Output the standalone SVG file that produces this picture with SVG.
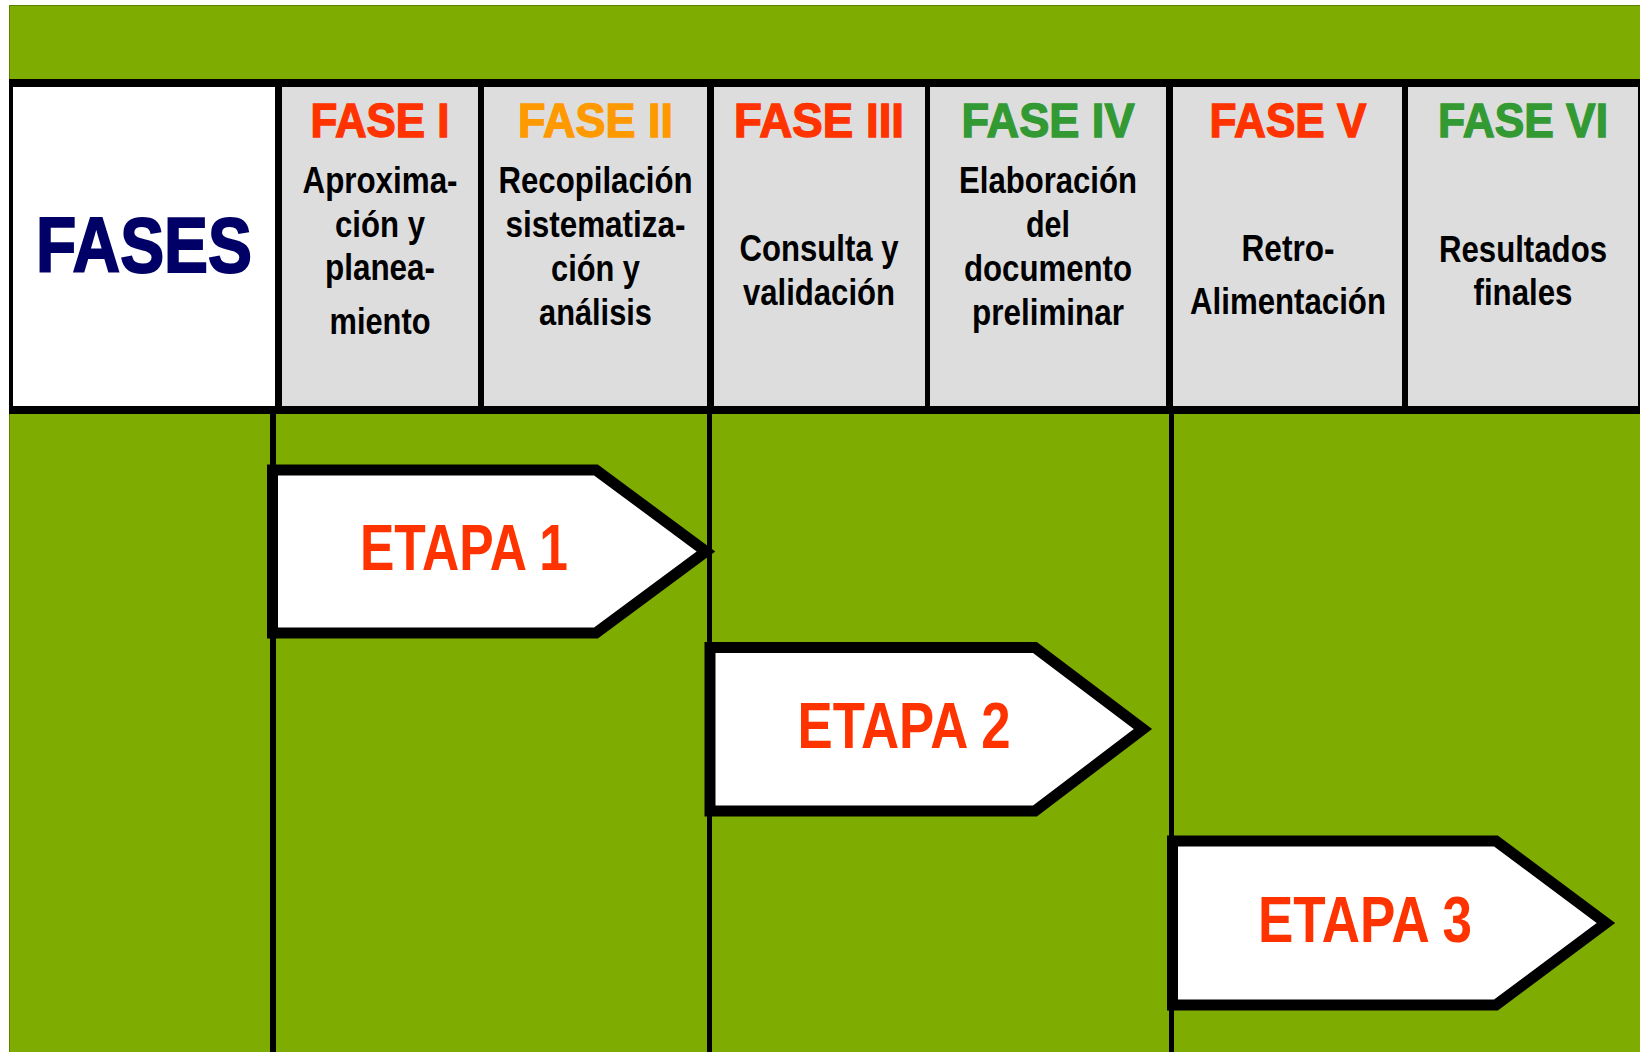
<svg xmlns="http://www.w3.org/2000/svg" width="1640" height="1052" viewBox="0 0 1640 1052">
  <style>
    text { font-family: "Liberation Sans", Arial, sans-serif; font-weight: bold; text-anchor: middle; }
    .body { font-size: 36px; fill: #000000; }
    .fase { font-size: 49px; stroke-width: 1.4; }
    .red { fill: #FF3300; stroke: #FF3300; }
    .orange { fill: #FF9900; stroke: #FF9900; }
    .green { fill: #339933; stroke: #339933; }
    .cell { fill: #DDDDDD; }
    .etapa { fill: #FFFFFF; stroke: #000000; stroke-width: 11; stroke-linejoin: miter; stroke-miterlimit: 10; }
    .etxt { font-size: 65px; fill: #FF3300; }
    .vline { fill: #000000; }
  </style>
  <rect x="0" y="0" width="1640" height="1052" fill="#FFFFFF"/>
  <rect id="background" x="9.5" y="5.5" width="1631" height="1047" fill="#7FAC00" stroke="#5E8000" stroke-width="1"/>

  <g id="header">
    <rect x="9" y="79" width="1631" height="335" fill="#000000"/>
  </g>

  <g id="fases">
    <rect x="13" y="87" width="262" height="319" fill="#FFFFFF"/>
    <text x="144" y="272" font-size="77" fill="#000066" stroke="#000066" stroke-width="2" textLength="216" lengthAdjust="spacingAndGlyphs">FASES</text>
  </g>

  <g id="fase1">
    <rect class="cell" x="282" y="87" width="196" height="319"/>
    <text class="fase red" x="380" y="137" textLength="139" lengthAdjust="spacingAndGlyphs">FASE I</text>
    <text class="body" x="380" y="193" textLength="155" lengthAdjust="spacingAndGlyphs">Aproxima-</text>
    <text class="body" x="380" y="237" textLength="90" lengthAdjust="spacingAndGlyphs">ción y</text>
    <text class="body" x="380" y="280" textLength="110" lengthAdjust="spacingAndGlyphs">planea-</text>
    <text class="body" x="380" y="334" textLength="101" lengthAdjust="spacingAndGlyphs">miento</text>
  </g>

  <g id="fase2">
    <rect class="cell" x="484" y="87" width="223" height="319"/>
    <text class="fase orange" x="595.5" y="137" textLength="155" lengthAdjust="spacingAndGlyphs">FASE II</text>
    <text class="body" x="595.5" y="193" textLength="194" lengthAdjust="spacingAndGlyphs">Recopilación</text>
    <text class="body" x="595.5" y="237" textLength="180" lengthAdjust="spacingAndGlyphs">sistematiza-</text>
    <text class="body" x="595.5" y="281" textLength="89" lengthAdjust="spacingAndGlyphs">ción y</text>
    <text class="body" x="595.5" y="325" textLength="113" lengthAdjust="spacingAndGlyphs">análisis</text>
  </g>

  <g id="fase3">
    <rect class="cell" x="714" y="87" width="211" height="319"/>
    <text class="fase red" x="819" y="137" textLength="170" lengthAdjust="spacingAndGlyphs">FASE III</text>
    <text class="body" x="819" y="261" textLength="159" lengthAdjust="spacingAndGlyphs">Consulta y</text>
    <text class="body" x="819" y="305" textLength="152" lengthAdjust="spacingAndGlyphs">validación</text>
  </g>

  <g id="fase4">
    <rect class="cell" x="930" y="87" width="236" height="319"/>
    <text class="fase green" x="1048" y="137" textLength="173" lengthAdjust="spacingAndGlyphs">FASE IV</text>
    <text class="body" x="1048" y="193" textLength="178" lengthAdjust="spacingAndGlyphs">Elaboración</text>
    <text class="body" x="1048" y="237" textLength="44" lengthAdjust="spacingAndGlyphs">del</text>
    <text class="body" x="1048" y="281" textLength="168" lengthAdjust="spacingAndGlyphs">documento</text>
    <text class="body" x="1048" y="325" textLength="152" lengthAdjust="spacingAndGlyphs">preliminar</text>
  </g>

  <g id="fase5">
    <rect class="cell" x="1173" y="87" width="229" height="319"/>
    <text class="fase red" x="1288" y="137" textLength="157" lengthAdjust="spacingAndGlyphs">FASE V</text>
    <text class="body" x="1288" y="261" textLength="93" lengthAdjust="spacingAndGlyphs">Retro-</text>
    <text class="body" x="1288" y="314" textLength="196" lengthAdjust="spacingAndGlyphs">Alimentación</text>
  </g>

  <g id="fase6">
    <rect class="cell" x="1408" y="87" width="230" height="319"/>
    <text class="fase green" x="1523" y="137" textLength="170" lengthAdjust="spacingAndGlyphs">FASE VI</text>
    <text class="body" x="1523" y="262" textLength="168" lengthAdjust="spacingAndGlyphs">Resultados</text>
    <text class="body" x="1523" y="305" textLength="99" lengthAdjust="spacingAndGlyphs">finales</text>
  </g>

  <g id="connectors">
    <rect class="vline" x="270" y="414" width="6" height="638"/>
    <rect class="vline" x="707" y="414" width="5" height="638"/>
    <rect class="vline" x="1169" y="414" width="5" height="638"/>
  </g>

  <g id="etapa1">
    <polygon class="etapa" points="272.5,470 596,470 706,551.5 596,633 272.5,633"/>
    <text class="etxt" x="464" y="570" textLength="208" lengthAdjust="spacingAndGlyphs">ETAPA 1</text>
  </g>

  <g id="etapa2">
    <polygon class="etapa" points="710,647.5 1035,647.5 1143,729 1035,811 710,811"/>
    <text class="etxt" x="904" y="748" textLength="213" lengthAdjust="spacingAndGlyphs">ETAPA 2</text>
  </g>

  <g id="etapa3">
    <polygon class="etapa" points="1172.5,841 1496,841 1606,923 1496,1005 1172.5,1005"/>
    <text class="etxt" x="1365" y="942" textLength="214" lengthAdjust="spacingAndGlyphs">ETAPA 3</text>
  </g>
</svg>
